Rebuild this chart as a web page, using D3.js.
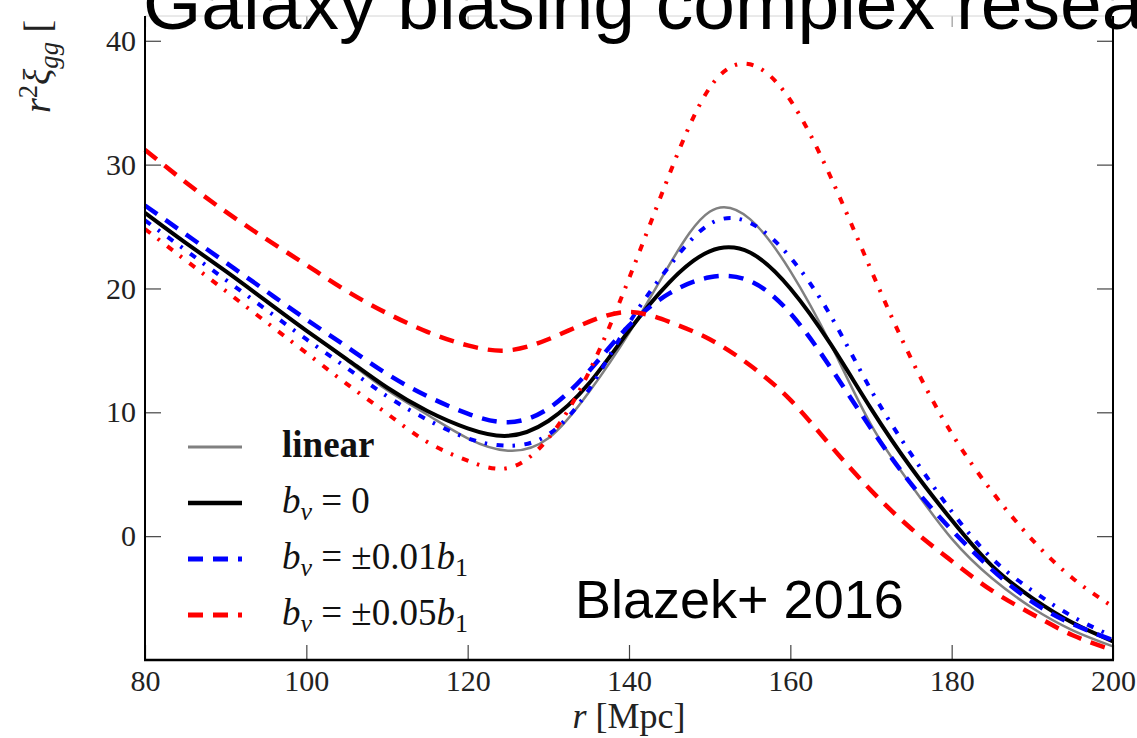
<!DOCTYPE html>
<html>
<head>
<meta charset="utf-8">
<script src="https://cdn.jsdelivr.net/npm/d3@7"></script>
<style>
  body { margin: 0; background: #fff; }
  svg { display: block; }
</style>
</head>
<body>
<svg width="1137" height="738"></svg>
<script>
// separation r [Mpc]
var r = [80, 85, 90, 95, 100, 105, 110, 115, 120, 125, 130, 135, 140,
         145, 150, 155, 160, 165, 170, 175, 180, 185, 190, 195, 200];

// r^2 xi_gg for each model
var linear    = [26.1, 23.7, 21.4, 19.0, 16.6, 14.2, 11.8, 9.8, 7.9, 6.9, 7.9, 11.6, 16.4,
                 21.9, 26.2, 25.6, 21.4, 15.5, 9.0, 4.1, -0.2, -3.4, -5.8, -7.6, -8.9];
var bv0       = [26.1, 23.7, 21.4, 19.0, 16.6, 14.3, 12.0, 10.1, 8.7, 8.1, 9.3, 12.3, 16.6,
                 20.5, 23.0, 22.9, 20.0, 15.5, 10.3, 5.5, 1.3, -2.4, -5.0, -7.0, -8.5];
var bvPlus01  = [26.7, 24.4, 22.1, 19.8, 17.5, 15.3, 13.1, 11.3, 9.9, 9.2, 10.3, 13.3, 17.0,
                 19.6, 20.9, 20.6, 18.0, 13.6, 8.7, 4.2, 0.5, -2.7, -5.3, -7.1, -8.4];
var bvMinus01 = [25.5, 23.1, 20.7, 18.3, 15.9, 13.6, 11.3, 9.4, 7.9, 7.3, 8.2, 11.8, 17.2,
                 21.8, 25.2, 25.3, 22.5, 17.8, 11.8, 6.6, 2.0, -1.8, -4.4, -6.5, -8.1];
var bvPlus05  = [31.2, 28.6, 26.2, 24.0, 21.9, 19.8, 18.0, 16.5, 15.4, 15.0, 15.9, 17.3, 18.1,
                 17.3, 15.9, 13.8, 11.0, 7.3, 3.7, 0.6, -2.0, -4.4, -6.3, -8.0, -9.2];
var bvMinus05 = [24.8, 22.3, 19.8, 17.3, 14.8, 12.3, 9.9, 7.6, 6.1, 5.5, 7.9, 13.2, 20.8,
                 29.2, 36.2, 38.1, 35.2, 29.0, 21.5, 14.3, 8.3, 3.6, -0.3, -3.4, -5.7];

var xTicks = [80, 100, 120, 140, 160, 180, 200];
var yTicks = [0, 10, 20, 30, 40];

var series = [
  {values: linear,    color: '#808080', width: 2.5, dash: null},
  {values: bv0,       color: '#000000', width: 4,   dash: null},
  {values: bvPlus01,  color: '#0000ff', width: 4.5, dash: '15 10'},
  {values: bvMinus01, color: '#0000ff', width: 4,   dash: '7 9 2.5 9.5'},
  {values: bvPlus05,  color: '#ff0000', width: 4.5, dash: '15 10'},
  {values: bvMinus05, color: '#ff0000', width: 4,   dash: '7 9 2.5 9.5'}
];

var margin = {top: 16, right: 24, bottom: 78, left: 145},
    width = 1137 - margin.left - margin.right,
    height = 738 - margin.top - margin.bottom;

var svg = d3.select('svg');

var x = d3.scaleLinear().domain([80, 200]).range([margin.left, margin.left + width]);
var y = d3.scaleLinear().domain([-10, 42]).range([margin.top + height, margin.top]);

var serif = '"Liberation Serif", "DejaVu Serif", serif';
var sans = '"Liberation Sans", Arial, sans-serif';

// axes, ticks pointing inward
var xAxisBottom = svg.append('g')
    .attr('transform', 'translate(0,' + (margin.top + height) + ')')
    .call(d3.axisBottom(x).tickValues(xTicks).tickSize(-15).tickPadding(10).tickFormat(d3.format('d')));
var yAxisLeft = svg.append('g')
    .attr('transform', 'translate(' + margin.left + ',0)')
    .call(d3.axisLeft(y).tickValues(yTicks).tickSize(-16).tickPadding(9).tickFormat(d3.format('d')));
var xAxisTop = svg.append('g')
    .attr('transform', 'translate(0,' + margin.top + ')')
    .call(d3.axisTop(x).tickValues(xTicks).tickSize(-11).tickFormat(''));
var yAxisRight = svg.append('g')
    .attr('transform', 'translate(' + (margin.left + width) + ',0)')
    .call(d3.axisRight(y).tickValues(yTicks).tickSize(-16).tickFormat(''));

svg.selectAll('.domain').remove();
svg.selectAll('.tick line').attr('stroke', '#444').attr('stroke-width', 1.2);
xAxisTop.selectAll('.tick line').attr('stroke', '#999');
svg.selectAll('.tick text')
    .attr('font-family', serif)
    .attr('font-size', 30)
    .attr('fill', '#222');

var line = d3.line()
    .x(function(d, i) { return x(r[i]); })
    .y(function(d) { return y(d); })
    .curve(d3.curveNatural);

svg.append('g').selectAll('path')
    .data(series)
    .enter().append('path')
    .attr('d', function(d) { return line(d.values); })
    .attr('fill', 'none')
    .attr('stroke', function(d) { return d.color; })
    .attr('stroke-width', function(d) { return d.width; })
    .attr('stroke-dasharray', function(d) { return d.dash; });

// spines
var x0 = margin.left, x1 = margin.left + width, y0 = margin.top, y1 = margin.top + height;
svg.append('line').attr('x1', x0).attr('x2', x1).attr('y1', y0).attr('y2', y0)
    .attr('stroke', '#d4d4d4').attr('stroke-width', 1);
svg.append('line').attr('x1', x0).attr('x2', x0).attr('y1', y0).attr('y2', y1 + 1)
    .attr('stroke', '#000').attr('stroke-width', 2);
svg.append('line').attr('x1', x1).attr('x2', x1).attr('y1', y0).attr('y2', y1 + 1)
    .attr('stroke', '#000').attr('stroke-width', 2);
svg.append('line').attr('x1', x0 - 1).attr('x2', x1 + 1).attr('y1', y1).attr('y2', y1)
    .attr('stroke', '#000').attr('stroke-width', 2.5);

// rich text helper: parts are [text, italic, shift, scale]
var rich = function(sel, parts, size) {
  var prev = 0;
  parts.forEach(function(p) {
    var shift = p[2] || 0;
    sel.append('tspan')
        .attr('dy', shift - prev)
        .attr('font-style', p[1] ? 'italic' : 'normal')
        .attr('font-size', size * (p[3] || 1))
        .text(p[0]);
    prev = shift;
  });
};

// legend
var legendRows = [
  {style: series[0], parts: [['linear', false]], bold: true},
  {style: series[1], parts: [['b', true], ['v', true, 7, 0.7], [' = 0', false]]},
  {style: series[2], parts: [['b', true], ['v', true, 7, 0.7], [' = \u00b10.01', false], ['b', true], ['1', false, 7, 0.7]]},
  {style: series[4], parts: [['b', true], ['v', true, 7, 0.7], [' = \u00b10.05', false], ['b', true], ['1', false, 7, 0.7]]}
];
var legendY = [447, 503, 559, 615];

var legend = svg.append('g');
legendRows.forEach(function(row, i) {
  legend.append('line')
      .attr('x1', 188).attr('x2', 242)
      .attr('y1', legendY[i]).attr('y2', legendY[i])
      .attr('stroke', row.style.color)
      .attr('stroke-width', row.style.width + 0.5)
      .attr('stroke-dasharray', row.style.dash);
  var t = legend.append('text')
      .attr('x', 282).attr('y', legendY[i] + 10)
      .attr('font-family', serif)
      .attr('font-weight', row.bold ? 'bold' : 'normal')
      .attr('fill', '#111');
  rich(t, row.parts, 37);
});

// axis labels
var xl = svg.append('text')
    .attr('x', (x0 + x1) / 2).attr('y', 728)
    .attr('text-anchor', 'middle')
    .attr('font-family', serif).attr('fill', '#222');
rich(xl, [['r', true], [' [Mpc]', false]], 36);

// y label is cropped by the top of the figure, only its start shows
var yl = svg.append('text')
    .attr('transform', 'translate(50,113) rotate(-90)')
    .attr('font-family', serif).attr('fill', '#222');
rich(yl, [['r', true], ['2', false, -13, 0.7], ['\u03be', true], ['gg', true, 8, 0.7], [' [', false]], 38);

// overlay texts
svg.append('text')
    .attr('x', 575).attr('y', 618)
    .attr('font-family', sans).attr('font-size', 54)
    .attr('fill', '#000')
    .text('Blazek+ 2016');

svg.append('text')
    .attr('x', 143).attr('y', 29)
    .attr('font-family', sans).attr('font-size', 75).attr('font-weight', 300)
    .attr('fill', '#000')
    .text('Galaxy biasing complex research');
</script>
</body>
</html>
